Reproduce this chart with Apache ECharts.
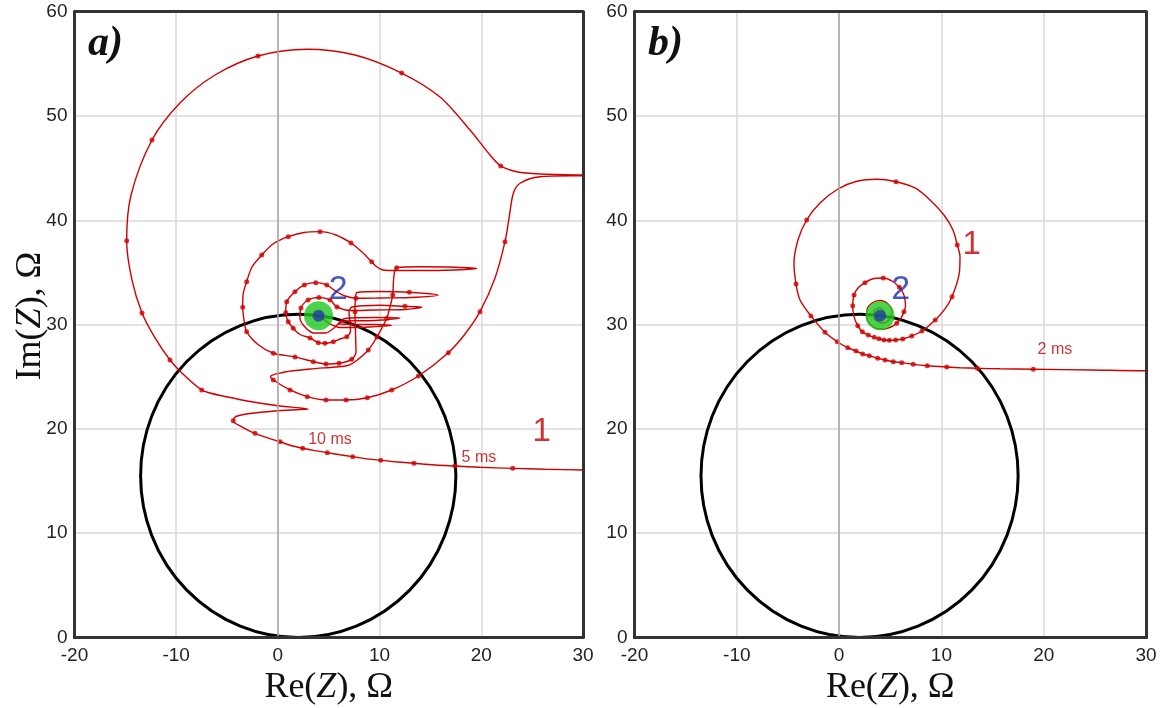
<!DOCTYPE html>
<html><head><meta charset="utf-8">
<script src="https://cdn.jsdelivr.net/npm/echarts@6/dist/echarts.min.js"></script>
<style>html,body{margin:0;padding:0;background:#fff}#c{width:1160px;height:708px}</style>
</head><body><div id="c"></div>
<script>
// ---- data ----
const xRange = [-20, 30];
const yRange = [0, 60];
const tickStep = 10;
const circleCenter = [2, 15.5];
const circleRadius = 15.5;
const pointTwo = [4.0, 30.85];

const leftCurve = [
[30.7,16.05],[30.0,16.06],[26.26,16.13],[23.09,16.22],[19.87,16.32],[17.41,16.44],[15.45,16.54],[13.38,16.70],[11.51,16.85],[10.11,16.99],[8.56,17.15],[7.35,17.34],[6.11,17.52],[4.86,17.72],[3.65,17.92],[2.44,18.14],[1.19,18.43],[0.21,18.77],[-1.07,19.16],[-2.25,19.58],[-3.43,20.13],[-4.39,20.79],
[-4.12,21.19],[-2.74,21.48],[-0.29,21.72],[2.17,21.86],[2.99,21.91],[2.17,22.02],[0.21,22.20],[-2.74,22.63],[-5.20,23.11],[-6.68,23.44],[-7.49,23.73],
[-9.13,25.07],[-10.61,26.61],[-12.08,28.72],[-13.36,31.11],[-14.35,34.28],[-14.87,38.05],[-14.44,42.43],[-12.38,47.70],[-9.63,51.25],[-6.18,53.93],[-1.96,55.75],[2.83,56.40],[7.58,55.85],[12.17,54.12],[15.94,51.82],[18.89,48.66],[20.86,46.26],[21.91,45.21],[23.48,44.66],[25.77,44.44],[30.0,44.34],[34.0,44.3],
[30.0,44.27],[25.77,44.18],[23.81,43.55],[23.15,42.59],[22.75,40.35],[22.33,37.95],[21.35,34.47],[19.87,31.24],[18.40,29.10],[16.76,27.31],[13.81,25.07],[11.19,23.73],[8.79,22.99],[6.70,22.77],[4.73,22.77],[2.89,23.09],[1.19,23.73],[-0.45,24.69],
[-0.73,25.02],[0.70,25.46],[3.16,25.74],[5.61,25.94],[6.89,26.08],[7.68,26.51],[8.89,27.56],[9.74,28.81],[10.70,30.60],[11.07,31.88],[11.29,32.84],[11.37,34.28],[11.51,35.24],[11.68,35.46],
[13.97,35.54],[17.41,35.50],[19.55,35.38],[17.41,35.24],[13.97,35.18],[11.51,35.18],[10.33,35.24],[9.74,35.52],[9.22,36.03],[8.27,36.96],[7.19,37.82],[5.71,38.59],[4.14,38.91],[2.57,38.83],[1.02,38.43],[-0.48,37.73],[-1.59,36.67],[-2.55,35.52],[-3.07,34.11],[-3.43,32.84],[-3.46,31.66],[-3.33,30.44],[-3.07,29.32],[-1.96,28.09],[-0.45,27.25],[1.68,26.9],[3.48,26.45],[4.73,26.22],[6.01,26.29],[7.26,26.67],[7.68,27.37],[7.65,28.52],[7.61,29.96],[7.58,31.40],[7.63,32.55],[7.78,33.08],
[10.04,33.17],[12.92,33.10],[15.74,32.82],[12.99,32.60],[10.04,32.55],[7.88,32.52],[6.60,32.74],[5.61,33.25],[4.80,33.80],[3.72,34.02],[2.60,33.80],[1.68,33.16],[0.87,32.20],[0.77,31.14],[1.02,30.28],[1.51,29.65],[2.17,29.05],[3.16,28.72],[3.97,28.27],[4.63,28.21],[5.45,28.36],[6.11,28.62],[6.77,28.84],[7.14,29.39],[7.09,30.25],[6.99,31.21],[7.29,31.69],
[10.04,31.86],[12.50,31.75],[14.14,31.67],[12.50,31.45],[9.55,31.40],[7.09,31.35],
[5.81,31.69],[5.12,32.36],[4.04,32.60],[2.96,32.36],[2.27,31.59],[2.17,30.63],[2.66,29.77],[3.55,29.19],[4.63,29.19],[5.52,29.67],[6.60,30.59],[9.55,30.68],[12.01,30.63],[9.55,30.39],[6.60,30.35],[5.91,30.06],[9.06,30.01],[11.19,29.93],[9.06,29.77],[6.11,29.72],[5.12,30.06],[4.34,30.63],[4.04,30.83]
];
const leftDots = [
[23.09,16.22],[17.41,16.44],[13.38,16.70],[10.11,16.99],[7.35,17.34],[4.86,17.72],[2.44,18.14],[0.21,18.77],[-2.25,19.58],[-4.39,20.79],
[-7.49,23.73],[-10.61,26.61],[-13.36,31.11],[-14.87,38.05],[-12.38,47.70],[-1.96,55.75],[12.17,54.12],[21.91,45.21],
[22.33,37.95],[19.87,31.24],[16.76,27.31],[13.81,25.07],[11.19,23.73],[8.79,22.99],[6.70,22.77],[4.73,22.77],[2.89,23.09],[1.19,23.73],[-0.45,24.69],
[11.68,35.46],[11.29,32.84],[10.70,30.60],[9.74,28.81],[8.89,27.56],
[9.22,36.03],[7.19,37.82],[4.14,38.91],[1.02,38.43],[-1.59,36.67],[-3.07,34.11],[-3.46,31.66],[-3.07,29.32],[-0.45,27.25],[1.68,26.9],[3.48,26.45],[4.73,26.22],[6.01,26.29],[7.26,26.67],
[12.92,33.10],[7.68,32.52],[7.58,31.24],
[4.80,33.80],[3.72,34.02],[2.60,33.80],[1.68,33.16],[0.87,32.20],[0.77,31.14],[1.02,30.28],[1.51,29.65],
[3.16,28.72],[3.97,28.27],[4.63,28.21],[5.45,28.36],[6.77,28.84],
[12.50,31.75],
[5.12,32.36],[4.04,32.60],[2.96,32.36],[2.27,31.59],[5.81,31.69]
];

const rightCurve = [
[31.37,25.58],[29.90,25.58],[24.53,25.65],[18.98,25.72],[15.73,25.76],[13.51,25.81],[11.82,25.87],[10.52,25.94],[8.62,26.06],[7.25,26.19],[6.12,26.35],[5.30,26.44],[4.49,26.61],[3.77,26.77],[2.95,27.02],[2.31,27.18],[1.65,27.47],[0.84,27.79],[-0.18,28.36],[-1.38,29.26],[-2.75,30.83],[-3.82,32.36],[-4.21,33.89],[-4.41,35.88],[-4.02,38.11],[-3.17,40.03],[-1.87,41.66],[-0.11,43.00],[1.65,43.72],[3.68,43.93],[5.56,43.70],[7.42,43.10],[8.89,41.95],[10.25,40.51],[11.13,39.07],[11.55,37.63],[11.82,36.51],[11.72,34.76],[11.04,32.68],[10.35,31.50],[9.40,30.44],[8.10,29.39],[7.10,28.91],[6.22,28.62],[5.53,28.52],[4.91,28.50],[4.39,28.52],[3.90,28.65],[3.44,28.78],[2.85,29.00],[2.27,29.32],[1.82,29.90],[1.46,30.76],[1.33,31.81],[1.46,32.84],[1.85,33.51],[2.53,34.02],[3.41,34.42],[4.32,34.47],[5.17,34.18],[5.89,33.58],[6.30,32.93],[6.44,32.36],[6.49,31.78],[6.34,31.24],[6.05,30.63],[5.63,30.13],[5.07,29.77],[4.39,29.58],[3.70,29.63],[3.12,29.96],[2.73,30.63],[2.73,31.40],[3.22,32.07],[4.00,32.31],[4.78,31.98],[5.17,31.21],[4.78,30.35],[4.10,30.15],[3.41,30.63],[3.41,31.30],[4.00,31.59],[4.49,31.02],[4.10,30.83]
];
const rightDots = [
[18.98,25.72],[13.51,25.81],[10.52,25.94],[8.62,26.06],[7.25,26.19],[6.12,26.35],[5.30,26.44],[4.49,26.61],[3.77,26.77],[2.95,27.02],[2.31,27.18],[1.65,27.47],[0.84,27.79],[-0.18,28.36],[-1.38,29.26],[-2.75,30.83],[-4.21,33.89],[-3.17,40.03],[5.56,43.70],[11.55,37.63],[11.04,32.68],[9.40,30.44],[8.10,29.39],[7.10,28.91],[6.22,28.62],[5.53,28.52],[4.91,28.50],[4.39,28.52],[3.90,28.65],[3.44,28.78],[2.85,29.00],[2.27,29.32],[1.82,29.90],[1.33,31.81],[1.46,32.84],[2.53,34.02],[4.32,34.47],[5.89,33.58],[6.34,31.24],[5.63,30.13]
];

const panelTags = ['a)', 'b)'];
const redLabelsA = [{name:'1', value:[25.94,19.73], big:true},{name:'10 ms', value:[5.12,18.94]},{name:'5 ms', value:[19.77,17.21]}];
const redLabelsB = [{name:'1', value:[12.96,37.63], big:true},{name:'2 ms', value:[21.10,27.56]}];
const blueLabelA = [{name:'2', value:[5.94,33.32]}];
const blueLabelB = [{name:'2', value:[6.02,33.32]}];

// ---- chart ----
const RED = '#d10000';
const chart = echarts.init(document.getElementById('c'), null, {renderer:'canvas'});
const grids = [
  {left:74.5, top:11.7, width:508.5, height:625.8},
  {left:634.5, top:11.7, width:511.5, height:625.8}
];
const axisName = (a) => `{n|${a}(}{i|Z}{n|), Ω}`;
const nameRich = {n:{fontFamily:'Liberation Serif', fontSize:36, fill:'#111', color:'#111'}, i:{fontFamily:'Liberation Serif', fontSize:36, fontStyle:'italic', fill:'#111', color:'#111'}};

const xAxes = [], yAxes = [];
grids.forEach((g,i)=>{
  xAxes.push({
    gridIndex:i, type:'value', min:xRange[0], max:xRange[1], interval:tickStep,
    axisLine:{show:false}, axisTick:{show:false},
    axisLabel:{fontSize:19, color:'#222', margin:9, fontFamily:'Liberation Sans', showMinLabel:true, showMaxLabel:true},
    splitLine:{show:true, lineStyle:{color:'#d8d8d8', width:1.5}},
    name: axisName('Re'), nameLocation:'middle', nameGap:32, nameMoveOverlap:false, nameTextStyle:{rich:nameRich}
  });
  yAxes.push({
    gridIndex:i, type:'value', min:yRange[0], max:yRange[1], interval:tickStep,
    axisLine:{show:false}, axisTick:{show:false},
    axisLabel:{fontSize:19, color:'#222', margin:7, fontFamily:'Liberation Sans', showMinLabel:true, showMaxLabel:true},
    splitLine:{show:true, lineStyle:{color:'#d8d8d8', width:1.5}}
  });
});
// frame axes (thick dark border on all four sides)
const frameLine = {show:true, onZero:false, lineStyle:{color:'#333', width:3}};
grids.forEach((g,i)=>{
  ['bottom','top'].forEach(pos=>xAxes.push({gridIndex:i, type:'value', position:pos, min:xRange[0], max:xRange[1], z:10,
    axisLine:frameLine, axisTick:{show:false}, axisLabel:{show:false}, splitLine:{show:false}}));
  ['left','right'].forEach(pos=>yAxes.push({gridIndex:i, type:'value', position:pos, min:yRange[0], max:yRange[1], z:10,
    axisLine:frameLine, axisTick:{show:false}, axisLabel:{show:false}, splitLine:{show:false}}));
});

const series = [];
const curves = [leftCurve, rightCurve];
const dots = [leftDots, rightDots];
const redLabels = [redLabelsA, redLabelsB];
const blueLabels = [blueLabelA, blueLabelB];
for (let i=0;i<2;i++){
  series.push({type:'line', xAxisIndex:i, yAxisIndex:i, data:[], z:1, silent:true,
    markLine:{silent:true, symbol:'none', label:{show:false}, lineStyle:{color:'#a6a6a6', width:1.5, type:'solid'}, data:[{xAxis:0}], animation:false}});
  series.push({type:'custom', xAxisIndex:i, yAxisIndex:i, z:2, silent:true,
    data:[[circleCenter[0], circleCenter[1], circleRadius]],
    renderItem:(params, api)=>{
      const c = api.coord([api.value(0), api.value(1)]);
      const s = api.size([api.value(2), api.value(2)], [api.value(0), api.value(1)]);
      const rx = s[0], ry = s[1];
      const d = `M ${c[0]-rx} ${c[1]} A ${rx} ${ry} 0 1 0 ${c[0]+rx} ${c[1]} A ${rx} ${ry} 0 1 0 ${c[0]-rx} ${c[1]} Z`;
      return {type:'path', shape:{pathData:d}, style:{fill:'none', stroke:'#000', lineWidth:3}};
    }});
  series.push({type:'line', xAxisIndex:i, yAxisIndex:i, data:curves[i], z:3, smooth:0.3, showSymbol:false, symbol:'none',
    lineStyle:{color:RED, width:1.4}, silent:true});
  series.push({type:'scatter', xAxisIndex:i, yAxisIndex:i, data:dots[i], z:4, symbolSize:5, itemStyle:{color:RED}, silent:true});
  series.push({type:'scatter', xAxisIndex:i, yAxisIndex:i, data:[pointTwo], z:5, symbolSize:29, itemStyle:{color:'#1ec81e'}, silent:true});
  series.push({type:'scatter', xAxisIndex:i, yAxisIndex:i, data:[pointTwo], z:6, symbolSize:12, itemStyle:{color:'#2338a8'}, silent:true});
  series.push({type:'scatter', xAxisIndex:i, yAxisIndex:i, z:7, symbolSize:0, silent:true,
    data:redLabels[i].map(d=>({name:d.name, value:d.value, label:{fontSize:d.big?33:16}})),
    label:{show:true, position:'inside', formatter:p=>p.name, color:'#c40000', fontFamily:'Liberation Sans'}});
  series.push({type:'scatter', xAxisIndex:i, yAxisIndex:i, z:8, symbolSize:0, silent:true,
    data:blueLabels[i].map(d=>({name:d.name, value:d.value})),
    label:{show:true, position:'inside', formatter:p=>p.name, color:'#1a2fae', fontSize:34, fontFamily:'Liberation Sans'}});
}

chart.setOption({
  animation:false,
  backgroundColor:'#fff',
  grid: grids.map(g=>Object.assign({show:false, containLabel:false, outerBoundsMode:'none'}, g)),
  xAxis:xAxes, yAxis:yAxes, series:series,
  graphic:[
    {type:'text', left:88, top:23, z:10, style:{text:panelTags[0], font:'italic bold 42px "Liberation Serif"', fill:'#111'}},
    {type:'text', left:648, top:23, z:10, style:{text:panelTags[1], font:'italic bold 42px "Liberation Serif"', fill:'#111'}},
    {type:'text', x:31, y:316, rotation:Math.PI/2, z:10,
      style:{text:axisName('Im'), rich:nameRich, align:'center', verticalAlign:'middle', fill:'#111'}}
  ]
});
</script></body></html>
